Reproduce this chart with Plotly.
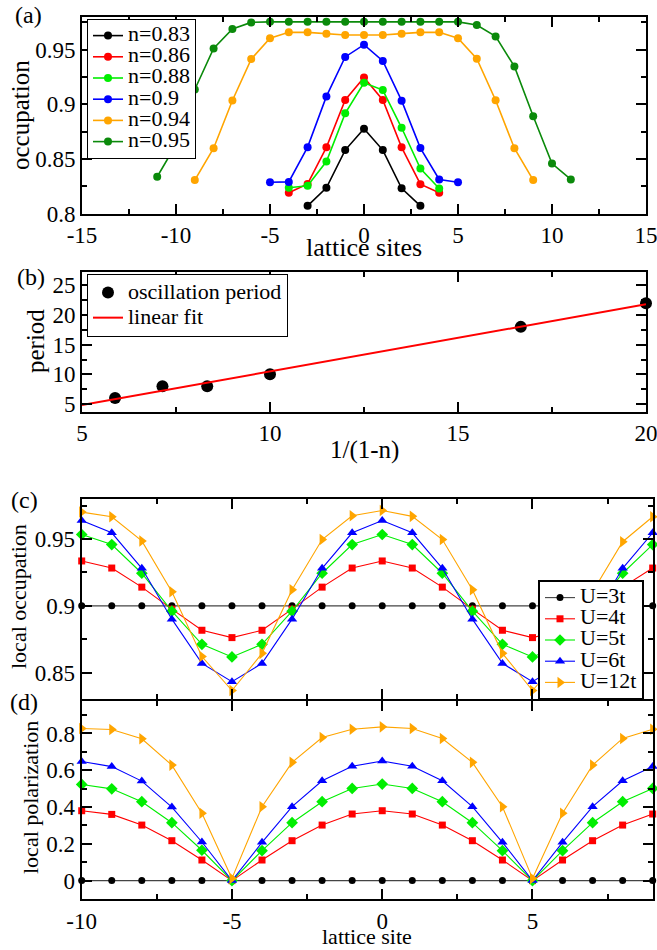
import plotly.graph_objects as go

SERIF = '"Liberation Serif", "Times New Roman", Times, "DejaVu Serif", serif'
W, H = 657, 950

# ---------------- panel (a) data ----------------
n083_x = [-3, -2, -1, 0, 1, 2, 3]
n083_y = [0.807, 0.8235, 0.858, 0.8775, 0.858, 0.823, 0.807]
n086_x = [-4, -3, -2, -1, 0, 1, 2, 3, 4]
n086_y = [0.819, 0.827, 0.8605, 0.9038, 0.9244, 0.9038, 0.8605, 0.8268, 0.819]
n088_x = [-4, -3, -2, -1, 0, 1, 2, 3, 4]
n088_y = [0.8235, 0.8253, 0.8475, 0.8916, 0.9195, 0.9129, 0.8784, 0.8411, 0.8229]
n090_x = [-5, -4, -3, -2, -1, 0, 1, 2, 3, 4, 5]
n090_y = [0.8286, 0.8289, 0.8607, 0.9071, 0.9432, 0.9544, 0.9395, 0.9032, 0.8598, 0.8311, 0.8286]
n094_x = [-9, -8, -7, -6, -5, -4, -3, -2, -1, 0, 1, 2, 3, 4, 5, 6, 7, 8, 9]
n094_y = [0.8306, 0.8597, 0.9034, 0.9412, 0.9603, 0.9657, 0.9657, 0.9643, 0.9633, 0.9633,
          0.9633, 0.9645, 0.9657, 0.9657, 0.9603, 0.9415, 0.9036, 0.8597, 0.8306]
n095_x = [-11, -10, -9, -8, -7, -6, -5, -4, -3, -2, -1, 0, 1, 2, 3, 4, 5, 6, 7, 8, 9, 10, 11]
n095_y = [0.8336, 0.863, 0.9134, 0.951, 0.9688, 0.9748, 0.9753, 0.9753, 0.9753, 0.9753, 0.9753,
          0.9753, 0.9753, 0.9753, 0.9753, 0.9753, 0.9753, 0.9724, 0.962, 0.9345, 0.889, 0.8457, 0.8312]
a_names = ["n=0.83", "n=0.86", "n=0.88", "n=0.9", "n=0.94", "n=0.95"]
a_colors = ["#000000", "#ff0000", "#00ee00", "#0000ff", "#ffa500", "#0b8a0b"]

# ---------------- panel (b) data ----------------
b_x = [5.88, 7.14, 8.33, 10.0, 16.67, 20.0]
b_period = [6, 8, 8, 10, 18, 22]
fit_x = [5.0, 20.0]
fit_y = [4.83, 21.8]

# ---------------- panels (c),(d) data ----------------
site = [-10, -9, -8, -7, -6, -5, -4, -3, -2, -1, 0, 1, 2, 3, 4, 5, 6, 7, 8, 9]
occ_U3 = [0.9] * 20
occ_U4 = [0.9336, 0.9283, 0.914, 0.8975, 0.8817, 0.8762, 0.8817, 0.8975, 0.914, 0.9283,
          0.9336, 0.9283, 0.914, 0.8975, 0.8817, 0.8762, 0.8817, 0.8975, 0.914, 0.9283]
occ_U5 = [0.9534, 0.9459, 0.9244, 0.896, 0.8712, 0.8617, 0.8712, 0.896, 0.9244, 0.9459,
          0.9534, 0.9459, 0.9244, 0.896, 0.8712, 0.8617, 0.8712, 0.896, 0.9244, 0.9459]
occ_U6 = [0.9639, 0.9547, 0.9281, 0.89, 0.8569, 0.8432, 0.8569, 0.89, 0.9281, 0.9547,
          0.9639, 0.9547, 0.9281, 0.89, 0.8569, 0.8432, 0.8569, 0.89, 0.9281, 0.9547]
occ_U12 = [0.9702, 0.9667, 0.9486, 0.9105, 0.862, 0.8366, 0.8644, 0.912, 0.9496, 0.9674,
           0.9714, 0.967, 0.9496, 0.912, 0.8644, 0.8366, 0.862, 0.9105, 0.948, 0.9667]
pol_U3 = [0.0] * 20
pol_U4 = [0.38, 0.36, 0.302, 0.217, 0.112, 0.0, 0.112, 0.217, 0.302, 0.362,
          0.38, 0.362, 0.302, 0.217, 0.112, 0.0, 0.112, 0.217, 0.302, 0.362]
pol_U5 = [0.523, 0.499, 0.429, 0.315, 0.165, 0.0, 0.163, 0.315, 0.429, 0.501,
          0.525, 0.501, 0.429, 0.315, 0.163, 0.0, 0.163, 0.315, 0.429, 0.501]
pol_U6 = [0.648, 0.62, 0.541, 0.4, 0.21, 0.0, 0.208, 0.402, 0.543, 0.622,
          0.65, 0.622, 0.543, 0.402, 0.208, 0.0, 0.208, 0.402, 0.543, 0.62]
pol_U12 = [0.827, 0.822, 0.771, 0.628, 0.366, 0.012, 0.402, 0.643, 0.778, 0.823,
           0.836, 0.827, 0.773, 0.643, 0.402, 0.012, 0.366, 0.628, 0.773, 0.823]
u_names = ["U=3t", "U=4t", "U=5t", "U=6t", "U=12t"]
u_marker_colors = ["#000000", "#ff0000", "#00ee00", "#0000ff", "#ffa500"]
u_line_colors = ["#444444", "#ff0000", "#00ee00", "#0000ff", "#ffa500"]
u_symbols = ["circle", "square", "diamond", "triangle-up", "triangle-right"]
u_sizes = [7, 7, 9, 9, 10]

# tick labels
a_xticks = [-15, -10, -5, 0, 5, 10, 15]
a_yticks = [0.8, 0.85, 0.9, 0.95]
b_xticks = [5, 10, 15, 20]
b_yticks = [5, 10, 15, 20, 25]
c_yticks = [0.85, 0.9, 0.95]
d_xticks = [-10, -5, 0, 5]
d_yticks = [0, 0.2, 0.4, 0.6, 0.8]


def fmt(v):
    return "%g" % v


def span(t, size=22):
    return '<span style="font-size:%dpx">%s</span>' % (size, t)


fig = go.Figure()

# panel (a)
a_data = [(n083_x, n083_y), (n086_x, n086_y), (n088_x, n088_y),
          (n090_x, n090_y), (n094_x, n094_y), (n095_x, n095_y)]
for (xs, ys), nm, col in zip(a_data, a_names, a_colors):
    fig.add_trace(go.Scatter(x=xs, y=ys, mode="lines+markers", name=span(nm),
                             line=dict(color=col, width=1.6),
                             marker=dict(color=col, size=8, symbol="circle"),
                             xaxis="x", yaxis="y", legend="legend"))

# panel (b)
fig.add_trace(go.Scatter(x=b_x, y=b_period, mode="markers", name=span("oscillation period"),
                         marker=dict(color="black", size=12), cliponaxis=False,
                         xaxis="x2", yaxis="y2", legend="legend2"))
fig.add_trace(go.Scatter(x=fit_x, y=fit_y, mode="lines", name=span("linear fit"),
                         line=dict(color="#ff0000", width=2),
                         xaxis="x2", yaxis="y2", legend="legend2"))

# panels (c),(d)
occ = [occ_U3, occ_U4, occ_U5, occ_U6, occ_U12]
pol = [pol_U3, pol_U4, pol_U5, pol_U6, pol_U12]
for i in range(5):
    fig.add_trace(go.Scatter(x=site, y=occ[i], mode="lines+markers", name=span(u_names[i]),
                             line=dict(color=u_line_colors[i], width=1.1), cliponaxis=False,
                             marker=dict(color=u_marker_colors[i], size=u_sizes[i], symbol=u_symbols[i]),
                             xaxis="x3", yaxis="y3", legend="legend3"))
for i in range(5):
    fig.add_trace(go.Scatter(x=site, y=pol[i], mode="lines+markers", name=u_names[i],
                             line=dict(color=u_line_colors[i], width=1.1), cliponaxis=False,
                             marker=dict(color=u_marker_colors[i], size=u_sizes[i], symbol=u_symbols[i]),
                             xaxis="x4", yaxis="y4", showlegend=False))


def axis(domain, rng, ticks, minor_dtick, anchor, labels=True, ticklen=10):
    return dict(domain=domain, range=rng, anchor=anchor,
                tickmode="array", tickvals=ticks, ticktext=[fmt(t) for t in ticks],
                showticklabels=labels, automargin=False, ticklabeloverflow="allow",
                showline=True, linecolor="black", linewidth=2, mirror="allticks",
                ticks="inside", ticklen=ticklen, tickwidth=1.5, tickcolor="black",
                showgrid=False, zeroline=False,
                tickfont=dict(family=SERIF, size=23, color="black"),
                minor=dict(ticks="inside", ticklen=5, tickwidth=1.5, tickcolor="black",
                           dtick=minor_dtick, tick0=0, showgrid=False))


def px_x(p):
    return p / W


def px_y(p):
    return 1 - p / H


xa_dom = [px_x(82), px_x(646)]
xc_dom = [px_x(81.7), px_x(652.7)]

fig.update_layout(
    width=W, height=H, margin=dict(l=0, r=0, t=0, b=0, pad=0, autoexpand=False),
    autosize=False,
    paper_bgcolor="white", plot_bgcolor="white", showlegend=True,
    font=dict(family=SERIF, color="black"),
    xaxis=axis(xa_dom, [-15, 15], a_xticks, 2.5, "y"),
    yaxis=axis([px_y(213.5), px_y(16.7)], [0.8, 0.98], a_yticks, 0.025, "x"),
    xaxis2=axis(xa_dom, [5, 20], b_xticks, 2.5, "y2"),
    yaxis2=axis([px_y(411.7), px_y(271.7)], [3.7, 27.3], b_yticks, 2.5, "x2"),
    xaxis3=axis(xc_dom, [-10, 9], d_xticks, 2.5, "y3", labels=False),
    yaxis3=axis([px_y(699.3), px_y(499)], [0.83, 0.98], c_yticks, 0.025, "x3"),
    xaxis4=axis(xc_dom, [-10, 9], d_xticks, 2.5, "y4"),
    yaxis4=axis([px_y(899), px_y(701.3)], [-0.1, 0.975], d_yticks, 0.1, "x4"),
    legend=dict(x=px_x(87), y=px_y(19), xanchor="left", yanchor="top",
                bgcolor="white", bordercolor="black", borderwidth=1,
                font=dict(family=SERIF, size=14, color="black"), itemwidth=30, tracegroupgap=0),
    legend2=dict(x=px_x(87), y=px_y(274), xanchor="left", yanchor="top",
                 bgcolor="white", bordercolor="black", borderwidth=1,
                 font=dict(family=SERIF, size=17, color="black"), itemwidth=30, tracegroupgap=0),
    legend3=dict(x=px_x(644), y=px_y(580), xanchor="right", yanchor="top",
                 bgcolor="white", bordercolor="black", borderwidth=2,
                 font=dict(family=SERIF, size=14, color="black"), itemwidth=30, tracegroupgap=0),
)

# axis titles and panel labels
texts = [
    ("lattice sites", 364, 247, 0, 26),
    ("occupation", 20, 115, -90, 25),
    ("1/(1-n)", 364, 450, 0, 25),
    ("period", 35, 341, -90, 25),
    ("local occupation", 18, 597, -90, 22),
    ("local polarization", 30, 798, -90, 22),
    ("lattice site", 367, 936, 0, 22),
    ("(a)", 28, 15, 0, 24),
    ("(b)", 31, 277, 0, 24),
    ("(c)", 24, 500, 0, 24),
    ("(d)", 24, 702, 0, 24),
]
for t, x, y, ang, sz in texts:
    fig.add_annotation(text=t, x=px_x(x), y=px_y(y), xref="paper", yref="paper",
                       xanchor="center", yanchor="middle", showarrow=False, textangle=ang,
                       font=dict(family=SERIF, size=sz, color="black"))

fig.write_html("out.html")
